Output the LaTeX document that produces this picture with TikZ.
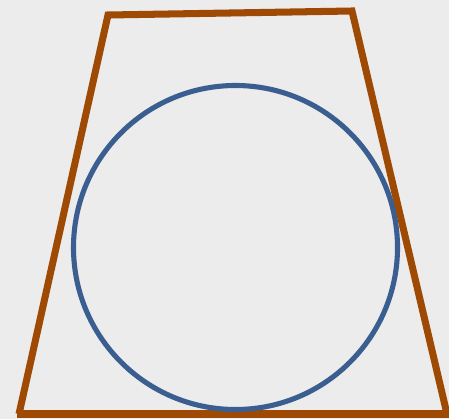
\documentclass[tikz,border=0pt]{standalone}
\usetikzlibrary{calc}
\definecolor{trapbrown}{RGB}{158,74,4}
\definecolor{circblue}{RGB}{58,94,143}
\definecolor{paper}{RGB}{236,236,236}
\tikzset{
  trapline/.style={line width=4pt, trapbrown, line join=miter},
  circline/.style={line width=2.9pt, circblue}
}
\begin{document}
\begin{tikzpicture}[x=0.02cm, y=-0.02cm]
      % Background paper
      \fill[paper] (0,0) rectangle (449,419);
      \useasboundingbox (0,0) rectangle (449,419);

      % Corners of the trapezoid
      \coordinate (tl) at (108,15);
      \coordinate (tr) at (352,11);
      \coordinate (br) at (447,414);
      \coordinate (bl) at (19,414);

      % Draw the trapezoid
      \draw[trapline] (bl) -- (tl) -- (tr) -- (br);
      \draw[trapline] (17,414) -- (449,414);

      % Inscribed circle
      \coordinate (ctr) at (235.5,247.5);
      \draw[circline] (ctr) circle[radius=162];
    \end{tikzpicture}
\end{document}
